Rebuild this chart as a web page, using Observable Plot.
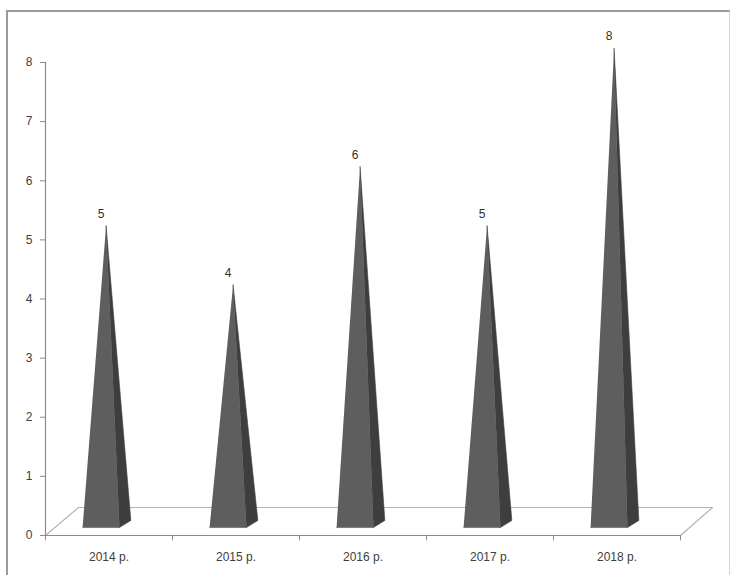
<!DOCTYPE html>
<html>
<head>
<meta charset="utf-8">
<script src="https://cdn.jsdelivr.net/npm/d3@7"></script>
<script src="https://cdn.jsdelivr.net/npm/@observablehq/plot@0.6"></script>
<style>
  html, body { margin: 0; padding: 0; background: #fff; overflow: hidden; }
  #wrap { position: relative; width: 732px; height: 575px; }
  #frame { position: absolute; left: 6px; top: 10px; width: 721px; height: 620px;
           border-top: 2px solid #9a9a9a; border-left: 2px solid #9a9a9a; border-right: 1px solid #d6d6d6; }
  #chart { position: absolute; left: 0; top: 0; }
</style>
</head>
<body>
<div id="wrap"><div id="frame"></div><div id="chart"></div></div>
<script>
// Data
const categories = ["2014 р.", "2015 р.", "2016 р.", "2017 р.", "2018 р."];
const values = [5, 4, 6, 5, 8];
const yTicks = [0, 1, 2, 3, 4, 5, 6, 7, 8];

// 3D look parameters (in data units)
const depthX = 0.26, depthY = 0.474;     // floor depth
const faceShift = -0.063, halfW = 0.145; // front face position / half width
const baseY = 0.135;                     // front base lift
const backDX = 0.09, backDY = 0.254;     // back-right corner offset
const apexDX = 0.04, apexDY = 0.237;     // apex offset

const n = categories.length;
const floor = [
  {x: 0, y: 0}, {x: n, y: 0}, {x: n + depthX * 0.97, y: depthY}, {x: depthX, y: depthY}, {x: 0, y: 0}
];

const front = [], side = [], labels = [];
values.forEach((v, i) => {
  const c = i + 0.5 + faceShift;
  const fl = {x: c - halfW, y: baseY};
  const fr = {x: c + halfW, y: baseY};
  const br = {x: c + halfW + backDX, y: backDY};
  const ap = {x: c + apexDX, y: v + apexDY};
  [fl, fr, ap].forEach(p => front.push({...p, id: i}));
  [fr, br, ap].forEach(p => side.push({...p, id: i}));
  labels.push({x: c, y: v + apexDY, text: String(v)});
});

const font = "Liberation Sans, Arial, sans-serif";

const chart = Plot.plot({
  width: 732,
  height: 575,
  marginLeft: 45,
  marginRight: 52,
  marginTop: 62,
  marginBottom: 40,
  style: {fontFamily: font, fontSize: "12px", color: "#404040", background: "transparent"},
  x: {domain: [0, n], axis: null},
  y: {domain: [0, 8], axis: null},
  marks: [
    Plot.line(floor, {x: "x", y: "y", fill: "#ffffff", stroke: "#b4b4b4", strokeWidth: 1.2}),
    Plot.ruleY([0], {stroke: "#8c8c8c", strokeWidth: 1.2}),
    Plot.ruleX([0], {y1: 0, y2: 8, stroke: "#8c8c8c", strokeWidth: 1.2}),
    Plot.axisY({ticks: yTicks, label: null, tickSize: 5, tickPadding: 8, stroke: "#8c8c8c", fontSize: 12, fill: "#404040"}),
    Plot.ruleX(d3.range(n + 1), {y1: 0, y2: -0.09, stroke: "#8c8c8c"}),
    Plot.line(front, {x: "x", y: "y", z: "id", fill: "#5e5e5e", stroke: "#5e5e5e", strokeWidth: 0.6}),
    Plot.line(side, {x: "x", y: "y", z: "id", fill: "#3e3e3e", stroke: "#3e3e3e", strokeWidth: 0.6}),
    Plot.text(labels, {x: "x", y: "y", text: "text", dy: -12, fontSize: 12, fill: "#303030"}),
    Plot.text(categories, {x: (d, i) => i + 0.5, y: 0, text: d => d, dy: 22, fontSize: 12, fill: "#404040"})
  ]
});
document.getElementById("chart").appendChild(chart);
</script>
</body>
</html>
